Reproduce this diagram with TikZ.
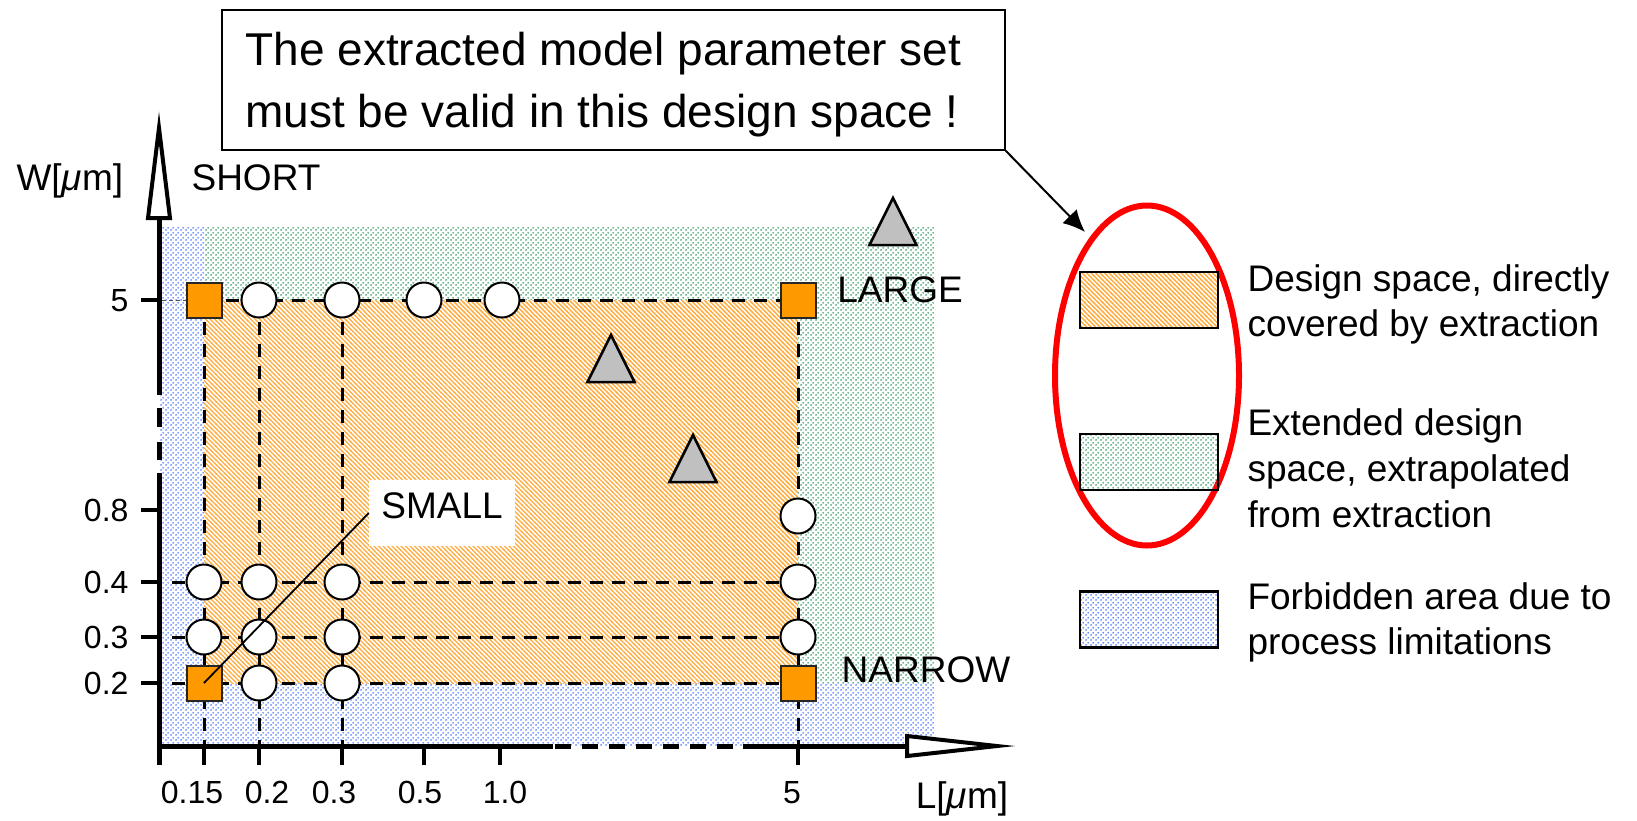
\documentclass[tikz,border=0pt]{standalone}
\usepackage{fontspec}
\setmainfont{Liberation Sans}
\usetikzlibrary{shapes.geometric,arrows.meta,patterns}

% fill textures of the three areas
\pgfdeclarepatternformonly{hatchNW}{\pgfqpoint{-1pt}{-1pt}}{\pgfqpoint{5.5pt}{5.5pt}}{\pgfqpoint{4.5pt}{4.5pt}}{%
  \pgfsetlinewidth{1.4pt}%
  \pgfpathmoveto{\pgfqpoint{-0.5pt}{5pt}}%
  \pgfpathlineto{\pgfqpoint{5pt}{-0.5pt}}%
  \pgfusepath{stroke}}
\pgfdeclarepatternformonly{dotfield}{\pgfqpoint{0pt}{0pt}}{\pgfqpoint{5pt}{5pt}}{\pgfqpoint{5pt}{5pt}}{%
  \pgfpathcircle{\pgfqpoint{1.25pt}{1.25pt}}{1.1pt}%
  \pgfpathcircle{\pgfqpoint{3.75pt}{3.75pt}}{1.1pt}%
  \pgfusepath{fill}}

\definecolor{markorange}{RGB}{255,153,0}
\definecolor{hatchorange}{RGB}{255,172,65}
\definecolor{dotgreen}{RGB}{60,160,105}
\definecolor{dotblue}{RGB}{85,125,255}
\definecolor{trigray}{RGB}{192,192,192}

\newcommand{\umu}{{\itshape μ}}

\begin{document}
\begin{tikzpicture}[x=1pt,y=-1pt,
  bigfont/.style={font=\fontsize{46}{56}\selectfont},
  labfont/.style={font=\fontsize{37}{45}\selectfont},
  tickfont/.style={font=\fontsize{32}{38}\selectfont},
  axisline/.style={line width=5pt},
  tickline/.style={line width=4pt},
  gridline/.style={line width=3pt, dash pattern=on 13pt off 9pt},
  ring/.style={circle, draw, line width=2pt, fill=white, minimum size=35pt, inner sep=0pt},
  sqmark/.style={rectangle, draw=black!85, line width=2pt, fill=markorange, minimum size=35pt, inner sep=0pt},
  trimark/.style={draw, line width=2.5pt, fill=trigray, line join=miter},
  designarea/.style={pattern=hatchNW, pattern color=hatchorange},
  extarea/.style={pattern=dotfield, pattern color=dotgreen},
  forbidarea/.style={pattern=dotfield, pattern color=dotblue},
  legbox/.style={rectangle, draw, line width=2.5pt, minimum width=138pt, minimum height=56pt, inner sep=0pt},
]
\useasboundingbox (0,0) rectangle (1637,820);

% ---- areas ----
\fill[forbidarea] (160,227) -- (204,227) -- (204,683) -- (935,683) -- (935,746) -- (160,746) -- cycle;
\fill[extarea] (204,227) -- (935,227) -- (935,683) -- (798,683) -- (798,300) -- (204,300) -- cycle;
\fill[designarea] (204,300) rectangle (798,683);

% ---- dashed grid ----
\draw[line width=1pt, dash pattern=on 4pt off 3pt, black!70] (162,300) -- (186,300);
\draw[gridline] (204,300) -- (798,300);
\foreach \yy in {582,637,683} \draw[gridline] (172,\yy) -- (798,\yy);
\foreach \xx in {204,259,342,798} \draw[gridline] (\xx,300) -- (\xx,746);

% ---- axes ----
\draw[axisline] (159,765) -- (159,473);
\draw[axisline] (159,460) -- (159,442);
\draw[axisline] (159,427) -- (159,408);
\draw[axisline] (159,395) -- (159,218);
\draw[line width=4pt, fill=white] (159,128) -- (170,218) -- (148,218) -- cycle;

\draw[axisline] (156.5,746) -- (553,746);
\draw[axisline, dash pattern=on 16pt off 11pt] (555,746) -- (735,746);
\draw[axisline] (743,746) -- (907,746);
\draw[line width=4pt, fill=white] (997,746) -- (907,736) -- (907,756) -- cycle;

\foreach \yy in {300,510,582,637,683} \draw[tickline] (141,\yy) -- (159,\yy);
\foreach \xx in {204,259,342,424,500,798} \draw[tickline] (\xx,746) -- (\xx,765);

% ---- axis labels ----
\node[tickfont, anchor=base east] (w5)  at (132,311) {5};
\node[tickfont, anchor=base east] (w08) at (132,521) {0.8};
\node[tickfont, anchor=base east] (w04) at (132,593) {0.4};
\node[tickfont, anchor=base east] (w03) at (132,648) {0.3};
\node[tickfont, anchor=base east] (w02) at (132,694) {0.2};
\node[tickfont, anchor=base] (l015) at (192,803) {0.15};
\node[tickfont, anchor=base] (l02)  at (267,803) {0.2};
\node[tickfont, anchor=base] (l03)  at (334,803) {0.3};
\node[tickfont, anchor=base] (l05)  at (420,803) {0.5};
\node[tickfont, anchor=base] (l10)  at (505,803) {1.0};
\node[tickfont, anchor=base] (l5)   at (792,803) {5};

\node[labfont, anchor=base west] (wlab) at (13,190) {W[\umu m]};
\node[labfont, anchor=base] (llab) at (962,808) {L[\umu m]};
\node[labfont, anchor=base] (short)  at (256,190) {SHORT};
\node[labfont, anchor=base] (large)  at (900,302) {LARGE};
\node[labfont, anchor=base] (narrow) at (926,682) {NARROW};

% ---- triangles ----
\draw[trimark] (893,198) -- (916.5,245) -- (869.5,245) -- cycle;
\draw[trimark] (611,335) -- (634.5,382) -- (587.5,382) -- cycle;
\draw[trimark] (693,435) -- (716.5,482) -- (669.5,482) -- cycle;

% ---- measured devices ----
\node[sqmark] (sqSS) at (204,683) {};
\node[sqmark] (sqSL) at (204,300) {};
\node[sqmark] (sqLS) at (798,683) {};
\node[sqmark] (sqLL) at (798,300) {};

\node[ring] (c1) at (259,300) {};
\node[ring] (c2) at (342,300) {};
\node[ring] (c3) at (424,300) {};
\node[ring] (c4) at (502,300) {};
\node[ring] (c5) at (798,516) {};
\node[ring] (c6) at (798,582) {};
\node[ring] (c7) at (798,637) {};
\node[ring] (c8) at (204,582) {};
\node[ring] (c9) at (259,582) {};
\node[ring] (c10) at (342,582) {};
\node[ring] (c11) at (204,637) {};
\node[ring] (c12) at (259,637) {};
\node[ring] (c13) at (342,637) {};
\node[ring] (c14) at (259,683) {};
\node[ring] (c15) at (342,683) {};

% ---- SMALL callout ----
\node[labfont, fill=white, minimum width=146pt, minimum height=66pt, inner sep=0pt,
      text height=26pt, text depth=16pt] (smallbox) at (442,513) {SMALL};
\draw[line width=1.8pt] (smallbox.west) -- (sqSS.center);

% ---- statement box ----
\node[draw, line width=1.5pt, minimum width=783pt, minimum height=140pt, inner sep=0pt] (callout) at (613.5,80) {};
\node[bigfont, anchor=base west] (line1) at (242,65) {The extracted model parameter set};
\node[bigfont, anchor=base west] (line2) at (242,127) {must be valid in this design space !};

% ---- legend ----
\node[ellipse, draw=red, line width=6pt, minimum width=184pt, minimum height=340pt, inner sep=0pt] (scopering) at (1147,375.5) {};
\coordinate (tip) at (1085,232);
\draw[line width=2pt, -{Latex[length=22pt,width=20pt]}] (callout.south east) -- (tip);

\node[legbox, designarea] (legA) at (1149,300) {};
\node[legbox, extarea]    (legB) at (1149,462) {};
\node[legbox, forbidarea] (legC) at (1149,619.5) {};

\node[labfont, anchor=base west] (ta1) at (1244,291) {Design space, directly};
\node[labfont, anchor=base west] (ta2) at (1244,336) {covered by extraction};
\node[labfont, anchor=base west] (tb1) at (1244,435) {Extended design};
\node[labfont, anchor=base west] (tb2) at (1244,481) {space, extrapolated};
\node[labfont, anchor=base west] (tb3) at (1244,527) {from extraction};
\node[labfont, anchor=base west] (tc1) at (1244,609) {Forbidden area due to};
\node[labfont, anchor=base west] (tc2) at (1244,654) {process limitations};
\end{tikzpicture}
\end{document}
